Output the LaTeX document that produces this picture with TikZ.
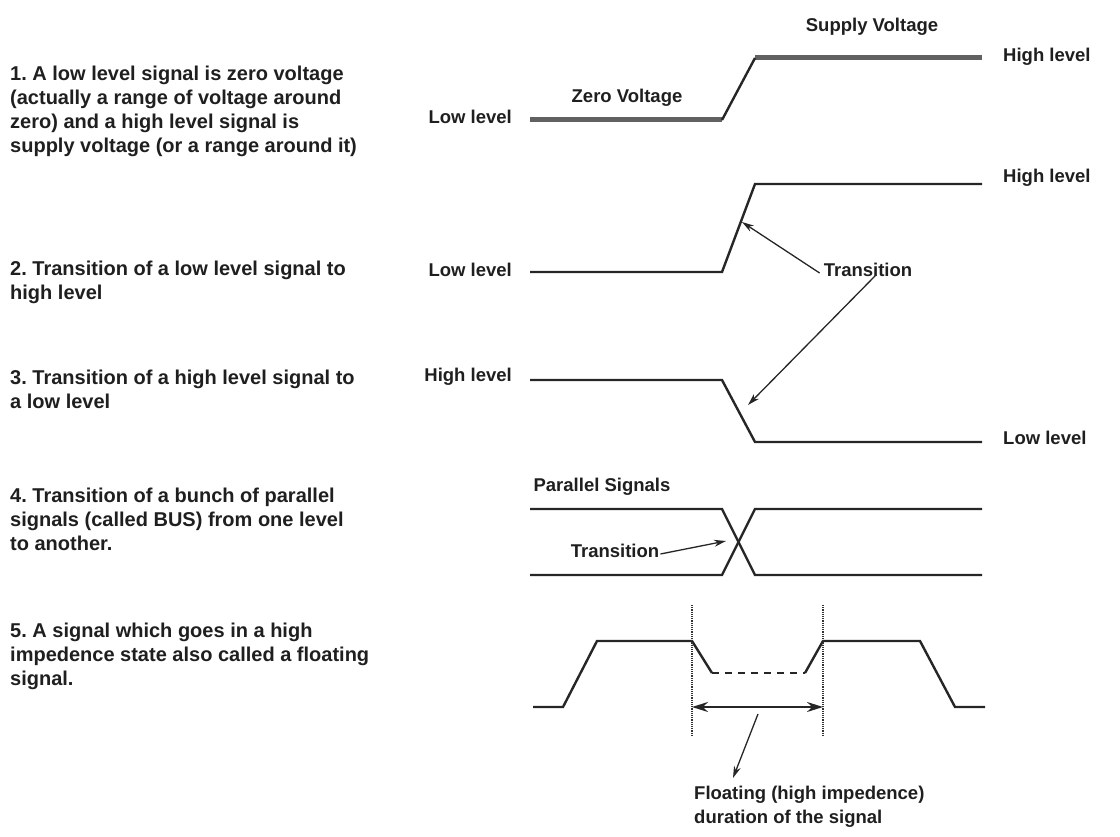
\documentclass[tikz,border=0pt]{standalone}
\usepackage{fontspec}
\setmainfont{Liberation Sans}
\usetikzlibrary{arrows.meta}
\frenchspacing
\begin{document}
\begin{tikzpicture}[x=1pt,y=-1pt,
  txt/.style={font=\fontsize{18.5}{24}\selectfont\bfseries, inner sep=0pt, text=black!88},
  para/.style={txt, font=\fontsize{20}{24}\selectfont\bfseries, align=left, anchor=north west},
  sig/.style={line width=2.4pt, black!85, line join=miter},
  rail/.style={line width=5pt, black!62},
  ptr/.style={line width=1.3pt, black!85, -{Stealth[length=12pt,width=7pt]}},
  dbl/.style={line width=2.2pt, black!85, {Stealth[length=16pt,width=10pt]}-{Stealth[length=16pt,width=10pt]}},
  guide/.style={line width=1.2pt, densely dotted, black!80},
  ]
\useasboundingbox (0,0) rectangle (1120,837);

% left descriptions
\node[para] (d1) at (10,66) {1. A low level signal is zero voltage\\(actually a range of voltage around\\zero) and a high level signal is\\supply voltage (or a range around it)};
\node[para] (d2) at (10,261) {2. Transition of a low level signal to\\high level};
\node[para] (d3) at (10,370) {3. Transition of a high level signal to\\a low level};
\node[para] (d4) at (10,488) {4. Transition of a bunch of parallel\\signals (called BUS) from one level\\to another.};
\node[para] (d5) at (10,623) {5. A signal which goes in a high\\impedence state also called a floating\\signal.};

% signal 1
\draw[rail] (530,120) -- (722,120);
\draw[rail] (755,58) -- (982,58);
\draw[sig] (722,120) -- (755,58);
\node[txt, anchor=east] (ll1) at (512,117) {Low level};
\node[txt, anchor=west] (hl1) at (1003,57) {High level};
\node[txt] (sv) at (872,27) {Supply Voltage};
\node[txt] (zv) at (627,98) {Zero Voltage};

% signal 2
\draw[sig] (530,272) -- (722,272) -- (755,184) -- (982,184);
\node[txt, anchor=east] (ll2) at (512,270) {Low level};
\node[txt, anchor=west] (hl2) at (1003,178) {High level};
\coordinate (r2) at (742,222);

% signal 3
\draw[sig] (530,380) -- (722,380) -- (755,442) -- (982,442);
\node[txt, anchor=east] (hl3) at (512,377) {High level};
\node[txt, anchor=west] (ll3) at (1003,438) {Low level};
\coordinate (f3) at (748,405);

% transition label and pointers
\node[txt] (tr) at (868,270) {Transition};
\draw[ptr] ([xshift=-4pt,yshift=-3pt]tr.west) -- (r2);
\draw[ptr] ([xshift=8pt,yshift=2pt]tr.south) -- (f3);

% signal 4
\node[txt] (ps) at (602,487) {Parallel Signals};
\draw[sig] (530,509) -- (722,509) -- (755,575) -- (982,575);
\draw[sig] (530,575) -- (722,575) -- (755,509) -- (982,509);
\node[txt] (tr4) at (615,551) {Transition};
\coordinate (x4) at (726,541);
\draw[ptr] ([xshift=1pt,yshift=-3pt]tr4.east) -- (x4);

% signal 5
\draw[sig] (533,707) -- (563,707) -- (597,641) -- (692,641) -- (712,673);
\draw[sig, dash pattern=on 7pt off 6pt] (712,673) -- (805,673);
\draw[sig] (805,673) -- (823,641) -- (920,641) -- (955,707) -- (985,707);
\coordinate (va) at (692,605);
\coordinate (vb) at (692,735);
\coordinate (vc) at (823,605);
\coordinate (vd) at (823,735);
\draw[guide] (va) -- (vb);
\draw[guide] (vc) -- (vd);
\coordinate (da) at (692,707);
\coordinate (db) at (823,707);
\draw[dbl] (da) -- (db);
\node[txt, align=left, anchor=north west] (fl) at (694,786) {Floating (high impedence)\\duration of the signal};
\coordinate (ft) at (758,714);
\coordinate (fh) at (733,778);
\draw[ptr] (ft) -- (fh);
\end{tikzpicture}
\end{document}
